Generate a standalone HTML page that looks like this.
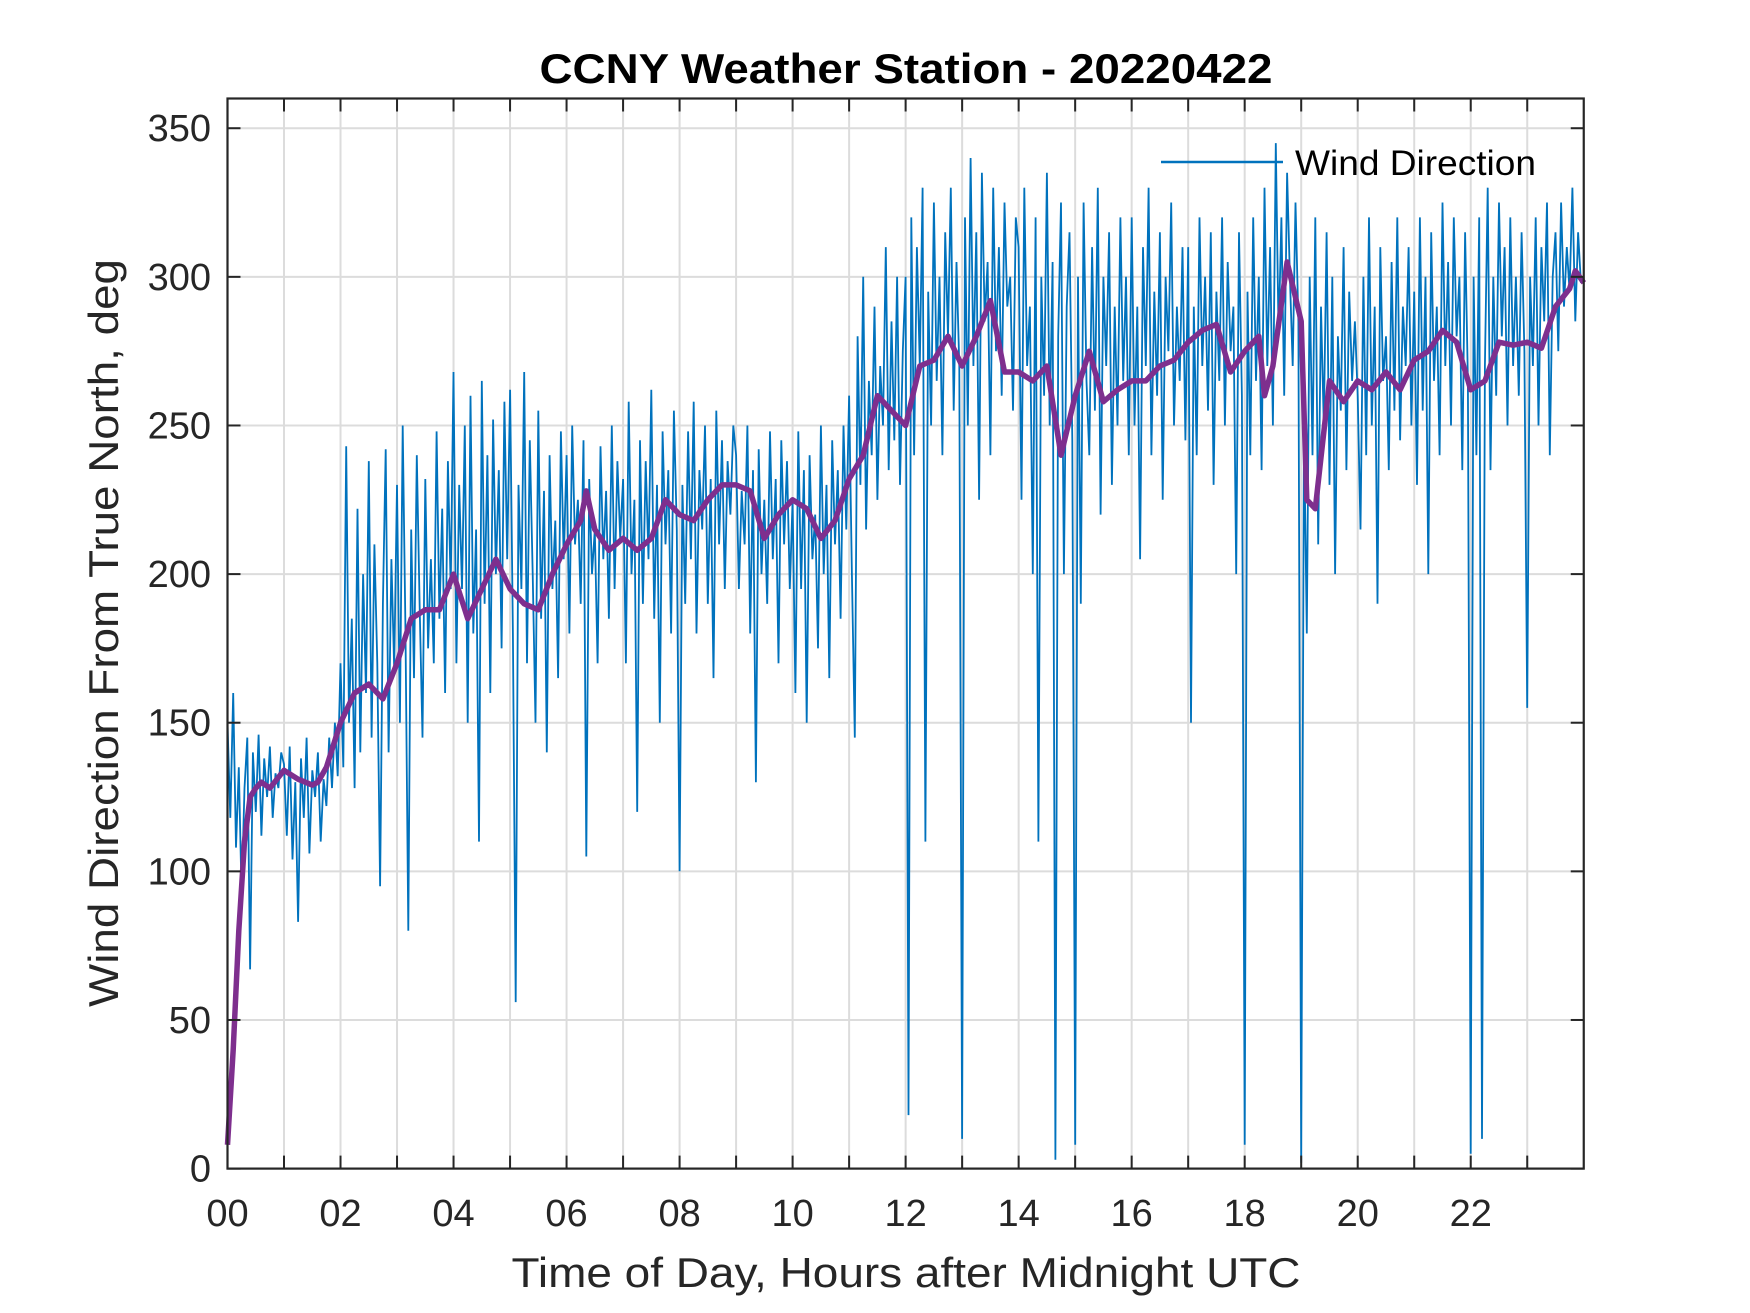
<!DOCTYPE html>
<html><head><meta charset="utf-8"><style>
html,body{margin:0;padding:0;background:#fff;}
svg{display:block;font-family:"Liberation Sans",Arial,sans-serif;}
</style></head>
<body>
<svg id="chart" width="1750" height="1313" viewBox="0 0 1750 1313" xmlns="http://www.w3.org/2000/svg">
<rect x="0" y="0" width="1750" height="1313" fill="#fff"/>
<g id="grid"></g>
<g id="series"></g>
<g id="axes"></g>
<text x="906" y="83" text-anchor="middle" font-size="42" font-weight="bold" fill="#000" textLength="733" lengthAdjust="spacingAndGlyphs">CCNY Weather Station - 20220422</text>
<text x="906" y="1287" text-anchor="middle" font-size="42" fill="#262626" textLength="789" lengthAdjust="spacingAndGlyphs">Time of Day, Hours after Midnight UTC</text>
<text transform="translate(118,633) rotate(-90)" text-anchor="middle" font-size="42" fill="#262626" textLength="748" lengthAdjust="spacingAndGlyphs">Wind Direction From True North, deg</text>
<g>
<line x1="1161" y1="162" x2="1283" y2="162" stroke="#0072BD" stroke-width="2.5"/>
<text x="1295" y="175" font-size="35" fill="#000" textLength="241" lengthAdjust="spacingAndGlyphs">Wind Direction</text>
</g>
</svg>
<script>
const xTickLabels = ["00","02","04","06","08","10","12","14","16","18","20","22"];
const yTickLabels = [0,50,100,150,200,250,300,350];
const blueValues = [
150,118,160,108,135,92,128,145,67,140,120,146,112,138,125,142,118,133,128,140,
136,112,142,104,130,83,138,118,145,106,134,125,140,110,131,122,145,128,150,132,
170,135,243,150,185,128,222,140,200,160,238,145,210,170,95,190,242,140,205,168,
230,150,250,180,80,215,165,240,190,145,232,175,205,170,248,185,222,160,238,195,
268,170,230,195,250,150,260,180,215,110,265,190,240,160,252,200,235,175,258,205,
262,180,56,230,195,268,170,245,200,150,255,185,228,140,240,195,218,165,248,205,
240,180,250,210,225,190,245,105,232,200,215,170,243,205,228,185,250,195,238,212,
232,170,258,200,225,120,245,190,238,205,262,185,230,150,248,210,235,180,255,215,
100,230,190,248,205,258,180,235,215,250,190,232,165,255,210,245,195,238,220,250,
240,195,228,210,250,180,235,130,242,200,225,190,248,205,232,170,245,210,238,195,
225,160,248,195,235,150,240,205,220,175,250,200,230,165,245,210,235,185,250,215,
260,200,145,280,230,300,215,265,240,290,225,270,250,310,235,285,245,300,230,275,
300,18,320,240,310,270,330,110,295,250,325,265,300,240,315,280,330,255,305,270,
10,320,250,340,270,315,225,335,285,305,240,330,275,310,260,325,290,300,255,320,
310,225,330,270,290,200,320,110,300,260,335,250,305,3,280,325,200,290,315,245,
8,300,190,325,265,240,310,255,330,220,300,270,315,230,290,250,320,265,300,240,
320,250,290,205,310,270,330,240,295,260,315,225,300,275,325,250,290,265,310,245,
310,150,290,240,320,270,300,255,315,230,295,265,320,250,305,275,290,200,315,260,
8,295,240,320,265,300,235,330,270,310,250,345,280,320,260,335,300,270,325,285,
2,250,180,300,240,320,210,290,250,315,230,300,200,280,255,310,235,295,265,285,
260,215,300,240,320,250,290,190,310,265,280,235,305,255,320,245,290,270,310,250,
295,230,320,255,300,200,315,265,290,240,325,270,305,250,320,280,300,235,315,265,
5,300,240,320,10,270,330,235,300,260,325,280,310,250,320,270,300,260,315,275,
155,300,270,320,250,310,285,325,240,300,315,275,325,290,310,295,330,285,315,298];
const blueStepHours = 0.05;
const meanHours = [0,0.1,0.2,0.3,0.4,0.5,0.6,0.75,1,1.25,1.5,1.6,1.75,2,2.25,2.5,2.75,3,3.25,3.5,3.75,4,4.25,4.5,4.75,5,5.25,5.5,5.75,6,6.25,6.35,6.5,6.75,7,7.25,7.5,7.75,8,8.25,8.5,8.75,9,9.25,9.5,9.75,10,10.25,10.5,10.75,11,11.25,11.5,11.75,12,12.25,12.5,12.75,13,13.25,13.5,13.75,14,14.25,14.5,14.75,15,15.25,15.5,15.75,16,16.25,16.5,16.75,17,17.25,17.5,17.75,18,18.25,18.35,18.5,18.75,19,19.1,19.25,19.5,19.75,20,20.25,20.5,20.75,21,21.25,21.5,21.75,22,22.25,22.5,22.75,23,23.25,23.5,23.75,23.85,24];
const meanValues = [8,40,80,110,125,128,130,128,134,131,129,130,135,150,160,163,158,170,185,188,188,200,185,195,205,195,190,188,200,210,218,228,215,208,212,208,212,225,220,218,225,230,230,228,212,220,225,222,212,218,232,240,260,255,250,270,272,280,270,280,292,268,268,265,270,240,260,275,258,262,265,265,270,272,278,282,284,268,275,280,260,270,305,285,225,222,265,258,265,262,268,262,272,275,282,278,262,265,278,277,278,276,290,296,302,298];

const L=227.5,R=1583.75,T=98.5,B=1168.6,XMAX=24,YMAX=360;
const NS="http://www.w3.org/2000/svg";
function xs(h){return L+(R-L)*h/XMAX;}
function ys(v){return B-(B-T)*v/YMAX;}
function mk(tag,attrs,parent){const e=document.createElementNS(NS,tag);for(const k in attrs)e.setAttribute(k,attrs[k]);parent.appendChild(e);return e;}
const grid=document.getElementById('grid'),series=document.getElementById('series'),axes=document.getElementById('axes');
for(let h=1;h<XMAX;h++){
  const g=mk('line',{x1:xs(h),x2:xs(h),y1:T,y2:B,stroke:'#dcdcdc','stroke-width':2},grid);
  
  
}
yTickLabels.forEach(v=>{
  if(v===0)return;
  const g=mk('line',{x1:L,x2:R,y1:ys(v),y2:ys(v),stroke:'#dcdcdc','stroke-width':2},grid);
  
  
});
let d='';
blueValues.forEach((v,i)=>{d+=(i?'L':'M')+xs(i*blueStepHours).toFixed(1)+' '+ys(v).toFixed(1);});
const bl=mk('path',{d:d,fill:'none',stroke:'#0072BD','stroke-width':1.8,'stroke-linejoin':'miter'},series);


let d2='';
meanValues.forEach((v,i)=>{d2+=(i?'L':'M')+xs(meanHours[i]).toFixed(1)+' '+ys(v).toFixed(1);});
const ml=mk('path',{d:d2,fill:'none',stroke:'#7E2F8E','stroke-width':5.5,'stroke-linejoin':'round'},series);


const box=mk('rect',{x:L,y:T,width:R-L,height:B-T,fill:'none',stroke:'#262626','stroke-width':2.2},axes);


for(let h=1;h<XMAX;h++){
  const t1=mk('line',{x1:xs(h),x2:xs(h),y1:B,y2:B-13,stroke:'#262626','stroke-width':2},axes);
  
  
  const t2=mk('line',{x1:xs(h),x2:xs(h),y1:T,y2:T+13,stroke:'#262626','stroke-width':2},axes);
  
  
}
xTickLabels.forEach((s,i)=>{
  const t=mk('text',{x:xs(i*2),y:1226,'text-anchor':'middle','font-size':38,fill:'#262626'},axes);
  t.textContent=s;
  
  
});
yTickLabels.forEach(v=>{
  const a=mk('line',{x1:L,x2:L+13,y1:ys(v),y2:ys(v),stroke:'#262626','stroke-width':2},axes);
  
  
  const b=mk('line',{x1:R,x2:R-13,y1:ys(v),y2:ys(v),stroke:'#262626','stroke-width':2},axes);
  
  
  const t=mk('text',{x:211,y:ys(v)+13,'text-anchor':'end','font-size':38,fill:'#262626'},axes);
  t.textContent=v;
  
  
});
</script>
</body></html>
